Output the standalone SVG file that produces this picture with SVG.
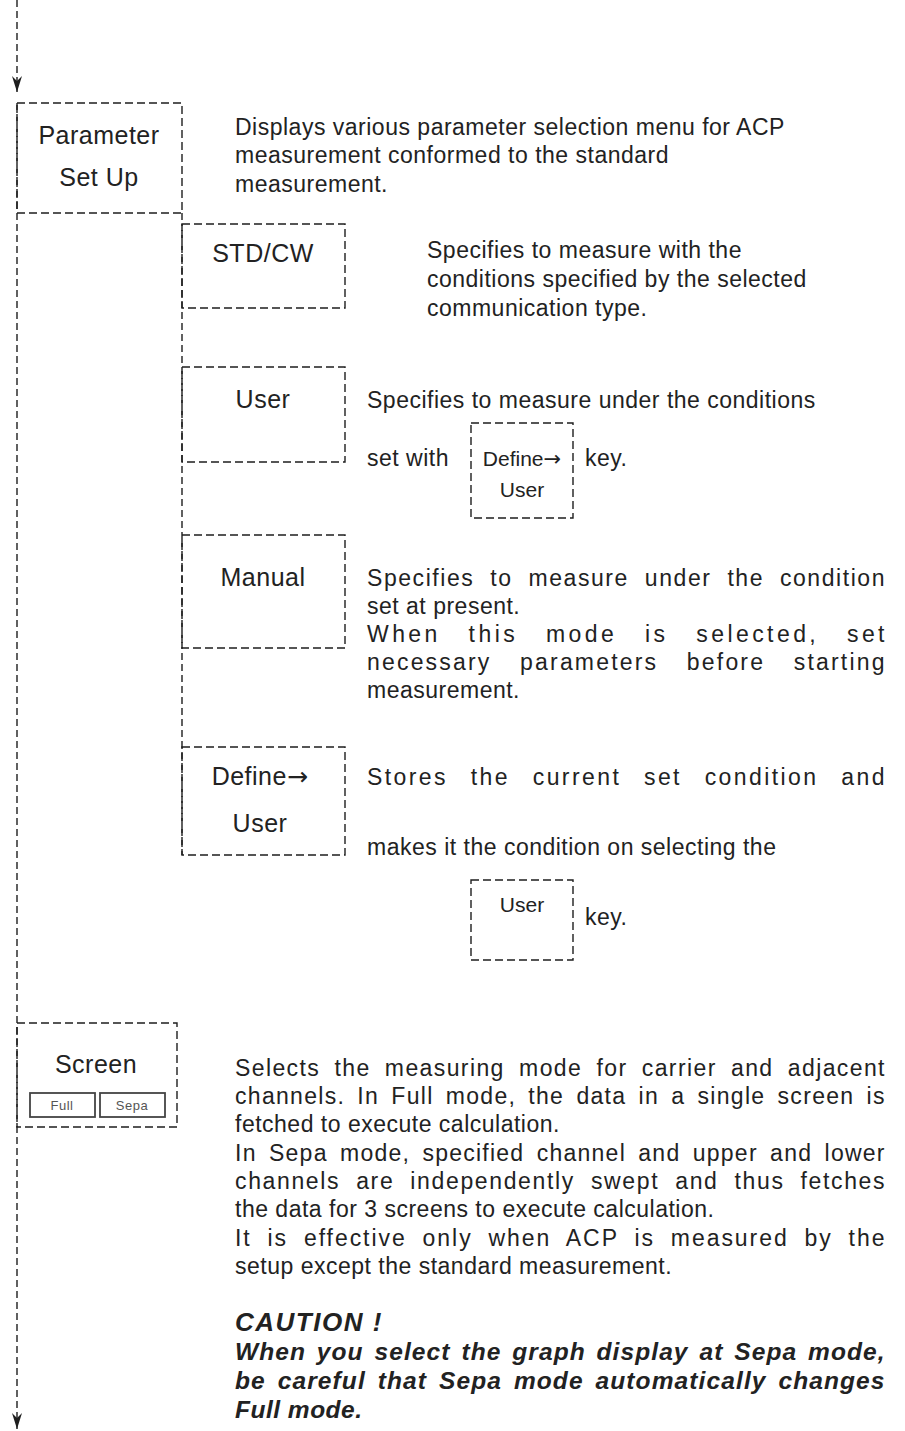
<svg xmlns="http://www.w3.org/2000/svg" width="905" height="1431" viewBox="0 0 905 1431">
<style>
.bx{fill:none;stroke:#1e1e1e;stroke-width:1.4;stroke-dasharray:8 4}
.ln{fill:none;stroke:#1e1e1e;stroke-width:1.4;stroke-dasharray:7 4}
.t{font-family:"Liberation Sans",Arial,sans-serif;font-size:23px;fill:#222;letter-spacing:0.5px}
.lb{font-family:"Liberation Sans",Arial,sans-serif;font-size:25px;fill:#222;letter-spacing:0.5px;text-anchor:middle}
.k{font-family:"Liberation Sans",Arial,sans-serif;font-size:21px;fill:#222;text-anchor:middle}
.ar{font-family:"DejaVu Sans",sans-serif}
.b{font-weight:bold;font-style:italic;font-size:24.5px;letter-spacing:0.5px}
.sm{font-family:"Liberation Sans",Arial,sans-serif;font-size:13px;fill:#555;text-anchor:middle;letter-spacing:0.5px}
.sb{fill:none;stroke:#444;stroke-width:1.8}
</style>
<defs>
<marker id="arr" viewBox="0 0 16 10" refX="16" refY="5" markerWidth="16" markerHeight="10" markerUnits="userSpaceOnUse" orient="auto">
<path d="M0,0 L16,5 L0,10 L5,5 z" fill="#1e1e1e"/>
</marker>
</defs>
<rect width="905" height="1431" fill="#fff"/>

<g id="connectors">
<line class="ln" x1="17" y1="0" x2="17" y2="92" marker-end="url(#arr)"/>
<line class="ln" x1="17" y1="103" x2="17" y2="1429" marker-end="url(#arr)"/>
<line class="ln" x1="182" y1="213" x2="182" y2="855"/>
</g>

<g id="param">
<rect class="bx" x="17" y="103" width="165" height="110"/>
<text class="lb" x="99" y="144">Parameter</text>
<text class="lb" x="99" y="186">Set Up</text>
<text class="t" x="235" y="135">Displays various parameter selection menu for ACP</text>
<text class="t" x="235" y="163">measurement conformed to the standard</text>
<text class="t" x="235" y="192">measurement.</text>
</g>

<g id="stdcw">
<rect class="bx" x="182" y="224" width="163" height="84"/>
<text class="lb" x="263" y="262">STD/CW</text>
<text class="t" x="427" y="258">Specifies to measure with the</text>
<text class="t" x="427" y="287">conditions specified by the selected</text>
<text class="t" x="427" y="316">communication type.</text>
</g>

<g id="user">
<rect class="bx" x="182" y="367" width="163" height="95"/>
<text class="lb" x="263" y="408">User</text>
<text class="t" x="367" y="408">Specifies to measure under the conditions</text>
<text class="t" x="367" y="466">set with</text>
<rect class="bx" x="471" y="423" width="102" height="95"/>
<text class="k" x="522" y="466">Define<tspan class="ar">→</tspan></text>
<text class="k" x="522" y="497">User</text>
<text class="t" x="585" y="466">key.</text>
</g>

<g id="manual">
<rect class="bx" x="182" y="535" width="163" height="113"/>
<text class="lb" x="263" y="586">Manual</text>
<text class="t" x="367" y="586" word-spacing="8" textLength="518" lengthAdjust="spacing">Specifies to measure under the condition</text>
<text class="t" x="367" y="614">set at present.</text>
<text class="t" x="367" y="642" word-spacing="18" textLength="518" lengthAdjust="spacing">When this mode is selected, set</text>
<text class="t" x="367" y="670" word-spacing="20" textLength="518" lengthAdjust="spacing">necessary parameters before starting</text>
<text class="t" x="367" y="698">measurement.</text>
</g>

<g id="define">
<rect class="bx" x="182" y="747" width="163" height="108"/>
<text class="lb" x="260" y="785">Define<tspan class="ar">→</tspan></text>
<text class="lb" x="260" y="832">User</text>
<text class="t" x="367" y="785" word-spacing="14" textLength="518" lengthAdjust="spacing">Stores the current set condition and</text>
<text class="t" x="367" y="855">makes it the condition on selecting the</text>
<rect class="bx" x="471" y="880" width="102" height="80"/>
<text class="k" x="522" y="912">User</text>
<text class="t" x="585" y="925">key.</text>
</g>

<g id="screen">
<rect class="bx" x="17" y="1023" width="160" height="104"/>
<text class="lb" x="96" y="1073">Screen</text>
<rect class="sb" x="30" y="1093" width="65" height="24"/>
<text class="sm" x="62" y="1110">Full</text>
<rect class="sb" x="100" y="1093" width="65" height="24"/>
<text class="sm" x="132" y="1110">Sepa</text>
<text class="t" x="235" y="1076" word-spacing="6.5" textLength="650" lengthAdjust="spacing">Selects the measuring mode for carrier and adjacent</text>
<text class="t" x="235" y="1104" word-spacing="4.5" textLength="650" lengthAdjust="spacing">channels. In Full mode, the data in a single screen is</text>
<text class="t" x="235" y="1132">fetched to execute calculation.</text>
<text class="t" x="235" y="1161" word-spacing="4.7" textLength="650" lengthAdjust="spacing">In Sepa mode, specified channel and upper and lower</text>
<text class="t" x="235" y="1189" word-spacing="8" textLength="650" lengthAdjust="spacing">channels are independently swept and thus fetches</text>
<text class="t" x="235" y="1217">the data for 3 screens to execute calculation.</text>
<text class="t" x="235" y="1246" word-spacing="7.5" textLength="650" lengthAdjust="spacing">It is effective only when ACP is measured by the</text>
<text class="t" x="235" y="1274">setup except the standard measurement.</text>
</g>

<g id="caution">
<text class="t b" x="235" y="1331" style="font-size:26px;letter-spacing:1.5px">CAUTION !</text>
<text class="t b" x="235" y="1360" word-spacing="3" textLength="650" lengthAdjust="spacing">When you select the graph display at Sepa mode,</text>
<text class="t b" x="235" y="1389" word-spacing="4" textLength="650" lengthAdjust="spacing">be careful that Sepa mode automatically changes</text>
<text class="t b" x="235" y="1418">Full mode.</text>
</g>
</svg>
